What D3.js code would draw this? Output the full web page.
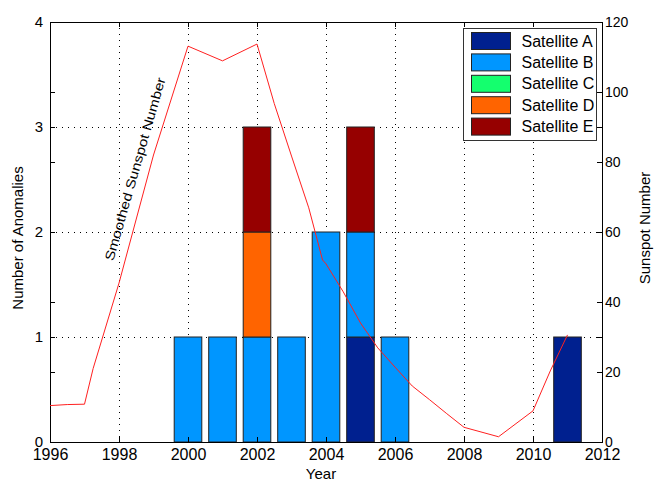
<html>
<head>
<script src="https://cdnjs.cloudflare.com/ajax/libs/d3/7.8.5/d3.min.js"></script>
<style>
body { margin: 0; background: #fff; }
svg { font-family: "Liberation Sans", Arial, sans-serif; }
.axis path, .axis line { stroke: #000; shape-rendering: crispEdges; }
.grid line { stroke: #000; stroke-dasharray: 1,5; shape-rendering: crispEdges; }
</style>
</head>
<body>
<svg width="654" height="483"></svg>
<script>
// bar data: anomalies per year, per satellite
const barYears = [2000, 2001, 2002, 2003, 2004, 2005, 2006, 2011];
const satA = [0, 0, 0, 0, 0, 1, 0, 1];
const satB = [1, 1, 1, 1, 2, 1, 1, 0];
const satC = [0, 0, 0, 0, 0, 0, 0, 0];
const satD = [0, 0, 1, 0, 0, 0, 0, 0];
const satE = [0, 0, 1, 0, 0, 1, 0, 0];
const satNames = ["Satellite A", "Satellite B", "Satellite C", "Satellite D", "Satellite E"];
const satColors = ["#00208f", "#0096ff", "#14ff6e", "#ff6400", "#960000"];

// smoothed sunspot number (right axis)
const sunYears = [1996, 1996.5, 1997, 1997.25, 1998, 1999, 2000, 2001, 2002, 2002.5, 2003, 2003.5, 2003.9, 2004, 2004.5, 2005, 2005.5, 2006, 2006.5, 2007, 2007.5, 2008, 2009, 2010, 2010.5, 2011];
const sunValues = [10.4, 10.7, 10.8, 21, 45.4, 82, 113.1, 108.9, 113.7, 96.7, 81.7, 66.9, 52, 50.9, 42.9, 34, 26.9, 21.4, 16, 12.1, 8.1, 4.2, 1.5, 8.9, 20.3, 30.6];

const xTicks = [1996, 1998, 2000, 2002, 2004, 2006, 2008, 2010, 2012];
const yTicks = [0, 1, 2, 3, 4];
const y2Ticks = [0, 20, 40, 60, 80, 100, 120];

var pLeft = 50, pTop = 22, pRight = 602, pBottom = 442;
var svg = d3.select("svg");

var x = d3.scaleLinear().domain([1996, 2012]).range([pLeft, pRight]);
var y = d3.scaleLinear().domain([0, 4]).range([pBottom, pTop]);
var y2 = d3.scaleLinear().domain([0, 120]).range([pBottom, pTop]);

// grid
var grid = svg.append("g").attr("class", "grid");
grid.selectAll(".gx").data(xTicks.slice(1, -1)).enter().append("line")
    .attr("x1", d => x(d) + 0.5).attr("x2", d => x(d) + 0.5)
    .attr("y1", pTop).attr("y2", pBottom);
grid.selectAll(".gy").data(yTicks.slice(1, -1)).enter().append("line")
    .attr("y1", d => y(d) + 0.5).attr("y2", d => y(d) + 0.5)
    .attr("x1", pLeft).attr("x2", pRight);

// stacked bars
var rows = barYears.map(function(yr, i) {
  return { year: yr, a: satA[i], b: satB[i], c: satC[i], d: satD[i], e: satE[i] };
});
var stack = d3.stack().keys(["a", "b", "c", "d", "e"])(rows);
var bw = x(1996.8) - x(1996);
svg.append("g").selectAll("g").data(stack).enter().append("g")
    .attr("fill", (d, i) => satColors[i])
    .selectAll("rect").data(d => d.filter(p => p[1] > p[0])).enter().append("rect")
    .attr("x", d => x(d.data.year) - bw / 2)
    .attr("width", bw)
    .attr("y", d => y(d[1]))
    .attr("height", d => y(d[0]) - y(d[1]))
    .attr("stroke", "#222").attr("stroke-width", 1);

// axes (ticks inward, mirrored on opposite sides)
svg.append("g").attr("class", "axis")
    .attr("transform", "translate(0," + pBottom + ")")
    .call(d3.axisBottom(x).tickValues(xTicks).tickFormat(d3.format("d")).tickSizeInner(-5).tickSizeOuter(0).tickPadding(7))
    .selectAll("text").attr("font-size", 16).attr("fill", "#000");
svg.append("g").attr("class", "axis")
    .attr("transform", "translate(0," + pTop + ")")
    .call(d3.axisTop(x).tickValues(xTicks).tickFormat("").tickSizeInner(-5).tickSizeOuter(0));
svg.append("g").attr("class", "axis")
    .attr("transform", "translate(" + pLeft + ",0)")
    .call(d3.axisLeft(y).tickValues(yTicks).tickFormat(d3.format("d")).tickSizeInner(-5).tickSizeOuter(0).tickPadding(7))
    .selectAll("text").attr("font-size", 15).attr("fill", "#000");
svg.append("g").attr("class", "axis")
    .attr("transform", "translate(" + pLeft + ",0)")
    .call(d3.axisLeft(y2).tickValues(y2Ticks).tickFormat("").tickSizeInner(-5).tickSizeOuter(0));
svg.append("g").attr("class", "axis")
    .attr("transform", "translate(" + pRight + ",0)")
    .call(d3.axisRight(y2).tickValues(y2Ticks).tickFormat(d3.format("d")).tickSizeInner(-5).tickSizeOuter(0).tickPadding(3))
    .selectAll("text").attr("font-size", 14).attr("fill", "#000");
svg.append("g").attr("class", "axis")
    .attr("transform", "translate(" + pRight + ",0)")
    .call(d3.axisRight(y).tickValues(yTicks).tickFormat("").tickSizeInner(-5).tickSizeOuter(0));
svg.selectAll(".axis .domain").attr("stroke", "#000");

// sunspot line
var line = d3.line().x(d => x(d[0])).y(d => y2(d[1]));
svg.append("path")
    .datum(sunYears.map((yr, i) => [yr, sunValues[i]]))
    .attr("d", line)
    .attr("fill", "none").attr("stroke", "#ff2020").attr("stroke-width", 1);

svg.append("text")
    .attr("transform", "translate(135,169) rotate(-74)")
    .attr("text-anchor", "middle").attr("dy", "0.35em")
    .attr("font-size", 13).attr("textLength", 190).attr("lengthAdjust", "spacingAndGlyphs")
    .text("Smoothed Sunspot Number");

// axis titles
svg.append("text").attr("x", 321).attr("y", 479).attr("text-anchor", "middle")
    .attr("font-size", 15).text("Year");
svg.append("text").attr("transform", "translate(23,238) rotate(-90)")
    .attr("text-anchor", "middle").attr("font-size", 15)
    .text("Number of Anomalies");
svg.append("text").attr("transform", "translate(650,228) rotate(-90)")
    .attr("text-anchor", "middle").attr("font-size", 15)
    .text("Sunspot Number");

// legend
var lg = svg.append("g").attr("transform", "translate(463.5,28.5)");
lg.append("rect").attr("width", 133).attr("height", 112)
    .attr("fill", "#fff").attr("stroke", "#333");
var item = lg.selectAll(".item").data(satNames).enter().append("g")
    .attr("transform", (d, i) => "translate(8," + (4 + i * 21.4) + ")");
item.append("rect").attr("width", 39).attr("height", 17)
    .attr("fill", (d, i) => satColors[i]).attr("stroke", "#222");
item.append("text").attr("x", 50).attr("y", 8.5).attr("dy", "0.35em")
    .attr("font-size", 16).text(d => d);
</script>
</body>
</html>
